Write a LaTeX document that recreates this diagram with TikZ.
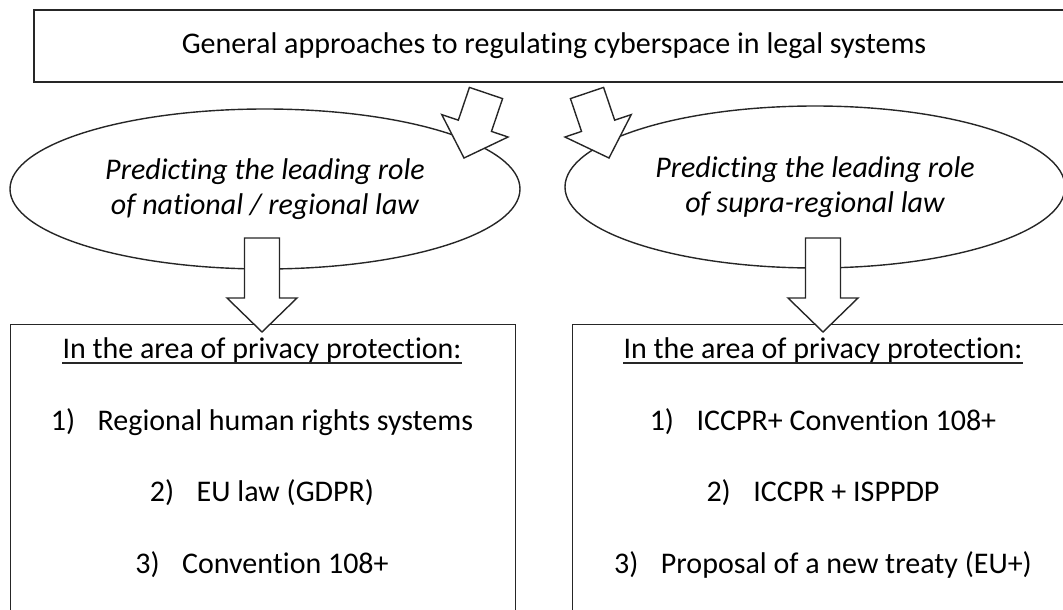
\documentclass[tikz,border=0pt]{standalone}
\usepackage{fontspec}
\setmainfont{Carlito}[Ligatures={NoCommon}]
\usetikzlibrary{shapes.geometric,calc}

% half width of the arrow shaft, length of the head, half width of the head
\newcommand\arrshaft{17.5pt}
\newcommand\arrhead{34pt}
\newcommand\arrwing{35pt}

\tikzset{
  frame/.style={draw=black!85, line width=1.4pt, rectangle, inner sep=0pt},
  oval/.style={draw=black!85, line width=1.4pt, ellipse, inner sep=0pt,
    align=center, font=\fontsize{30}{35}\selectfont\itshape},
  txt/.style={inner sep=0pt, font=\fontsize{30}{36}\selectfont},
  blockarrow/.style={draw=black!85, fill=white, line width=1.4pt, line join=miter},
  underl/.style={draw=black!85, line width=1.3pt},
}

% hollow block arrow from a tail centre (#1) to a tip (#2)
\newcommand\blockarrow[2]{%
  \draw[blockarrow]
    ($(#1)!\arrshaft!90:(#2)$) --
    ($($(#2)!\arrhead!(#1)$)!\arrshaft!90:(#2)$) --
    ($($(#2)!\arrhead!(#1)$)!\arrwing!90:(#2)$) --
    (#2) --
    ($($(#2)!\arrhead!(#1)$)!\arrwing!-90:(#2)$) --
    ($($(#2)!\arrhead!(#1)$)!\arrshaft!-90:(#2)$) --
    ($(#1)!\arrshaft!-90:(#2)$) -- cycle;
}

\begin{document}
\begin{tikzpicture}[x=1pt, y=-1pt]
\useasboundingbox (0,0) rectangle (1063,610);
\clip (0,0) rectangle (1063,610);

% heading
\node[frame, txt, minimum width=1040pt, minimum height=72pt] (top) at (554,46)
  {\raisebox{-1.5pt}{General approaches to regulating cyberspace in legal systems}};

% the two approaches
\node[oval, minimum width=510pt, minimum height=160pt] (natl) at (265,189)
  {Predicting the leading role\\of national / regional law};
\node[oval, minimum width=500pt, minimum height=162pt] (supra) at (815,187)
  {Predicting the leading role\\of supra-regional law};

% result panels
\node[frame, minimum width=505pt, minimum height=340pt, anchor=north west] (lbox) at (10,324) {};
\node[frame, minimum width=505pt, minimum height=340pt, anchor=north west] (rbox) at (572,324) {};

\node[txt] (lhead) at (262,350) {In the area of privacy protection:};
\node[txt] (l1) at (262,422) {1)\hspace{0.75em}Regional human rights systems};
\node[txt] (l2) at (262,493) {2)\hspace{0.75em}EU law (GDPR)};
\node[txt] (l3) at (262,565) {3)\hspace{0.75em}Convention 108+};

\node[txt] (rhead) at (823,350) {In the area of privacy protection:};
\node[txt] (r1) at (823,422) {1)\hspace{0.75em}ICCPR+ Convention 108+};
\node[txt] (r2) at (823,493) {2)\hspace{0.75em}ICCPR + ISPPDP};
\node[txt] (r3) at (823,565) {3)\hspace{0.75em}Proposal of a new treaty (EU+)};

\draw[underl] ([yshift=-5pt]lhead.base west) -- ([yshift=-5pt]lhead.base east);
\draw[underl] ([yshift=-5pt]rhead.base west) -- ([yshift=-5pt]rhead.base east);

% arrow ends
\coordinate (natl-in)  at (486,93);
\coordinate (natl-tip) at (464,158);
\coordinate (supra-in)  at (587,93);
\coordinate (supra-tip) at (609,158);
\coordinate (natl-out) at (262,238);
\coordinate (lbox-tip) at (262,332);
\coordinate (supra-out) at (823,238);
\coordinate (rbox-tip) at (823,332);

\blockarrow{natl-in}{natl-tip}
\blockarrow{supra-in}{supra-tip}
\blockarrow{natl-out}{lbox-tip}
\blockarrow{supra-out}{rbox-tip}
\end{tikzpicture}
\end{document}
